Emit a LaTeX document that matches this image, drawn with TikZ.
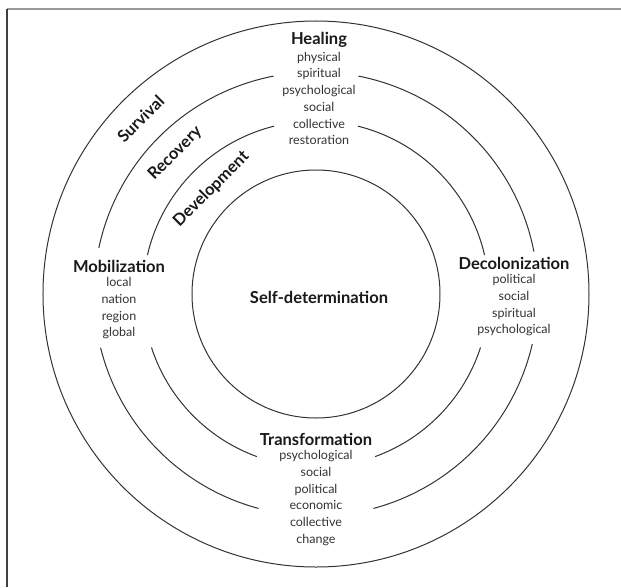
\documentclass[tikz,border=0pt]{standalone}
\usepackage{fontspec}
\setmainfont{Lato}
\usetikzlibrary{positioning}
\tikzset{
  ring/.style={draw=black!80, line width=1pt},
  heading/.style={font=\fontsize{16.5}{18}\bfseries\selectfont, inner sep=0pt, text=black!90},
  items/.style={font=\fontsize{12.5}{16.7}\selectfont, align=center, inner sep=0pt, text=black!80},
  stage/.style={heading, rotate=45},
}
\begin{document}
\begin{tikzpicture}[x=1pt,y=1pt]
    \useasboundingbox (-316,-293) rectangle (305,294);
    \draw[black!40, line width=1.6pt] (-309,285) -- (305,285);
    \draw[black!75, line width=1.2pt] (-309,285) -- (-309,-293);

    \draw[ring] (0,0) circle[radius=273pt];
    \draw[ring] (0,0) circle[radius=124pt];
    \foreach \r/\a/\b in {222/11/79, 222/101/168, 222/194/255, 222/285/347,
                          173/13/76, 173/104/167, 173/198/250, 173/290/342}
        \draw[ring] (\a:\r pt) arc[start angle=\a, end angle=\b, radius=\r pt];

    \node[heading] (healing) at (3,254) {Healing};
    \node[items, below=4pt of healing] (healinglist)
        {physical\\spiritual\\psychological\\social\\collective\\restoration};

    \node[heading] (mobil) at (-197,28) {Mobilization};
    \node[items, below=5pt of mobil] (mobillist) {local\\nation\\region\\global};

    \node[heading] (decol) at (198,31) {Decolonization};
    \node[items, below=5pt of decol] (decollist)
        {political\\social\\spiritual\\psychological};

    \node[heading] (transf) at (0,-145) {Transformation};
    \node[items, below=5pt of transf] (transflist)
        {psychological\\social\\political\\economic\\collective\\change};

    \node[heading] (selfdet) at (3,-3) {Self-determination};

    \node[stage] (survival) at (135:248pt) {Survival};
    \node[stage] (recovery) at (135:199pt) {Recovery};
    \node[stage] (develop) at (135:148pt) {Development};
\end{tikzpicture}
\end{document}
